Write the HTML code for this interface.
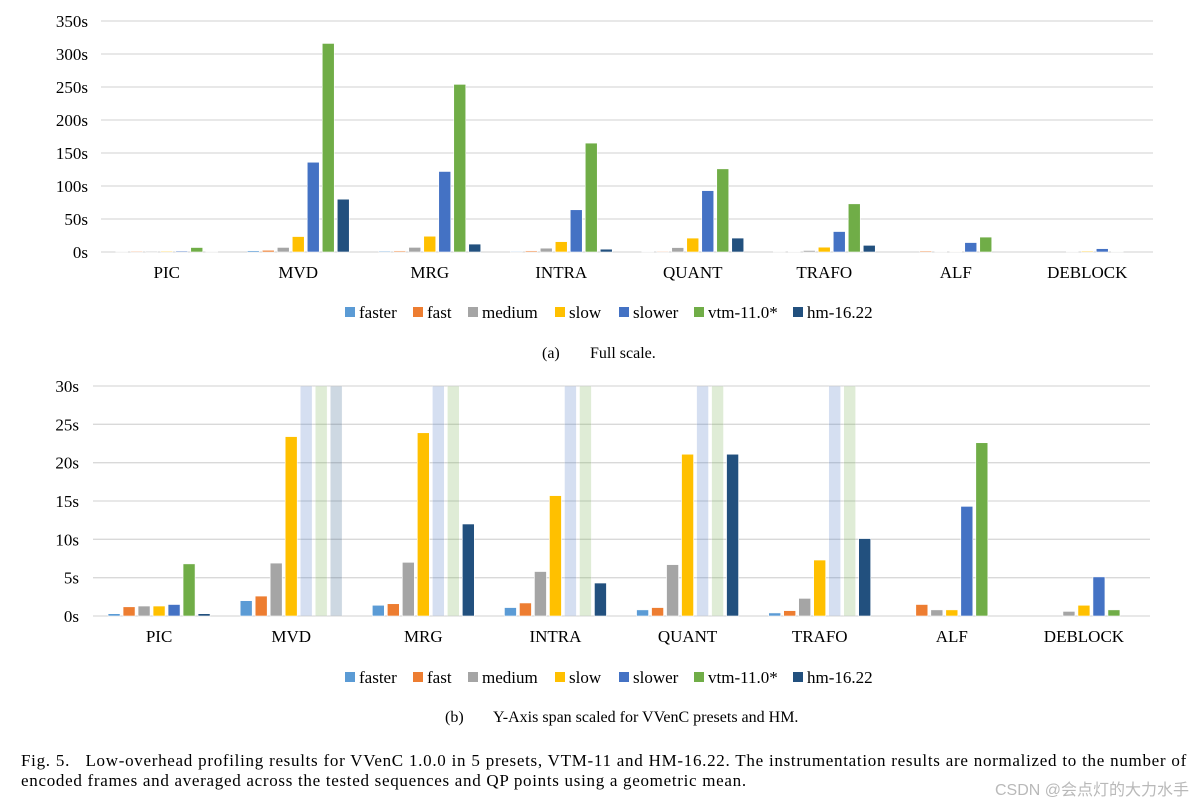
<!DOCTYPE html>
<html><head><meta charset="utf-8">
<style>
body{margin:0;background:#fff;width:1201px;height:807px;overflow:hidden;font-family:"Liberation Serif","Noto Serif CJK SC",serif;}
svg{position:absolute;left:0;top:0}
#cap{position:absolute;left:21px;top:751px;width:1166px;font-size:17px;line-height:20px;color:#000;letter-spacing:0.7px;}
#cap .l1{text-align:justify;text-align-last:justify;}
#wm{position:absolute;right:12px;top:776px;font-family:"Liberation Sans","Noto Sans CJK SC",sans-serif;font-size:16px;color:#b9b9b9;}
</style></head><body>
<svg id="chart" width="1201" height="807"></svg>
<div id="cap"><div class="l1">Fig. 5.&nbsp;&nbsp;&nbsp;Low-overhead profiling results for VVenC 1.0.0 in 5 presets, VTM-11 and HM-16.22. The instrumentation results are normalized to the number of</div><div>encoded frames and averaged across the tested sequences and QP points using a geometric mean.</div></div>
<div id="wm">CSDN @会点灯的大力水手</div>
<script>
const categories=["PIC","MVD","MRG","INTRA","QUANT","TRAFO","ALF","DEBLOCK"];
const seriesNames=["faster","fast","medium","slow","slower","vtm-11.0*","hm-16.22"];
const seriesColors=["#5b9bd5","#ed7d31","#a5a5a5","#ffc000","#4472c4","#70ad47","#22507e"];
const faster=[0.3,2.0,1.4,1.1,0.8,0.4,0,0];
const fast=[1.2,2.6,1.6,1.7,1.1,0.7,1.5,0];
const medium=[1.3,6.9,7.0,5.8,6.7,2.3,0.8,0.6];
const slow=[1.3,23.4,23.9,15.7,21.1,7.3,0.8,1.4];
const slower=[1.5,136,122,64,93,31,14.3,5.1];
const vtm=[6.8,316,254,165,126,73,22.6,0.8];
const hm=[0.3,80,12.0,4.3,21.1,10.1,0,0];
const series=[faster,fast,medium,slow,slower,vtm,hm];
const ticksA=[0,50,100,150,200,250,300,350];
const ticksB=[0,5,10,15,20,25,30];

const NS="http://www.w3.org/2000/svg";
const svg=document.getElementById('chart');
function mk(tag,attrs,parent,text){const e=document.createElementNS(NS,tag);for(const k in attrs)e.setAttribute(k,attrs[k]);if(text!==undefined)e.textContent=text;(parent||svg).appendChild(e);return e;}

function drawChart(cfg){
  const g=mk('g',{});
  
  
  const max=cfg.ticks[cfg.ticks.length-1];
  const y=v=>cfg.y0-(Math.min(v,max)/max)*(cfg.y0-cfg.yTop);
  const bw=(cfg.x1-cfg.x0)/categories.length;
  const x=i=>cfg.x0+bw*i;
  cfg.ticks.forEach(t=>{
    const gl=mk('line',{x1:cfg.x0,x2:cfg.x1,y1:y(t),y2:y(t),stroke:'#d9d9d9','stroke-width':1.3},g);
    
    
    const tl=mk('text',{x:cfg.tickX,y:y(t)+6,'text-anchor':'end','font-size':17},g,t+'s');
    
    
  });
  const pitch=15,barW=12,groupW=pitch*6+barW;
  categories.forEach((c,i)=>{
    const cx=x(i)+bw/2;
    const lab=mk('text',{x:cx,y:cfg.y0+26,'text-anchor':'middle','font-size':17},g,c);
    
    
    series.forEach((s,k)=>{
      const v=s[i]; if(!v) return;
      const bx=cx-groupW/2+k*pitch;
      const r=mk('rect',{x:bx,y:y(v),width:barW,height:cfg.y0-y(v),fill:seriesColors[k],stroke:'#fff','stroke-width':0.6,opacity:v>max?0.22:1},g);
      
      
    });
  });
  const lg=mk('g',{},g);
  
  
  const lx=[345,413,468,555,619,694,793];
  seriesNames.forEach((n,k)=>{
    const e=mk('g',{},lg);
    
    
    mk('rect',{x:lx[k],y:cfg.legendY-5,width:10,height:10,fill:seriesColors[k]},e);
    mk('text',{x:lx[k]+14,y:cfg.legendY+6,'font-size':17},e,n);
  });
  const st=mk('g',{},g);
  
  
  mk('text',{x:cfg.subX,y:cfg.subY,'font-size':16},st,cfg.subA);
  mk('text',{x:cfg.subX+48,y:cfg.subY,'font-size':16},st,cfg.subB);
}
drawChart({name:'chart-full-scale',x0:101,x1:1153,y0:252,yTop:21,ticks:ticksA,tickX:88,legendY:312,subA:'(a)',subB:'Full scale.',subX:542,subY:358});
drawChart({name:'chart-scaled',x0:93,x1:1150,y0:616,yTop:386,ticks:ticksB,tickX:79,legendY:677,subA:'(b)',subB:'Y-Axis span scaled for VVenC presets and HM.',subX:445,subY:722});
</script>
</body></html>
